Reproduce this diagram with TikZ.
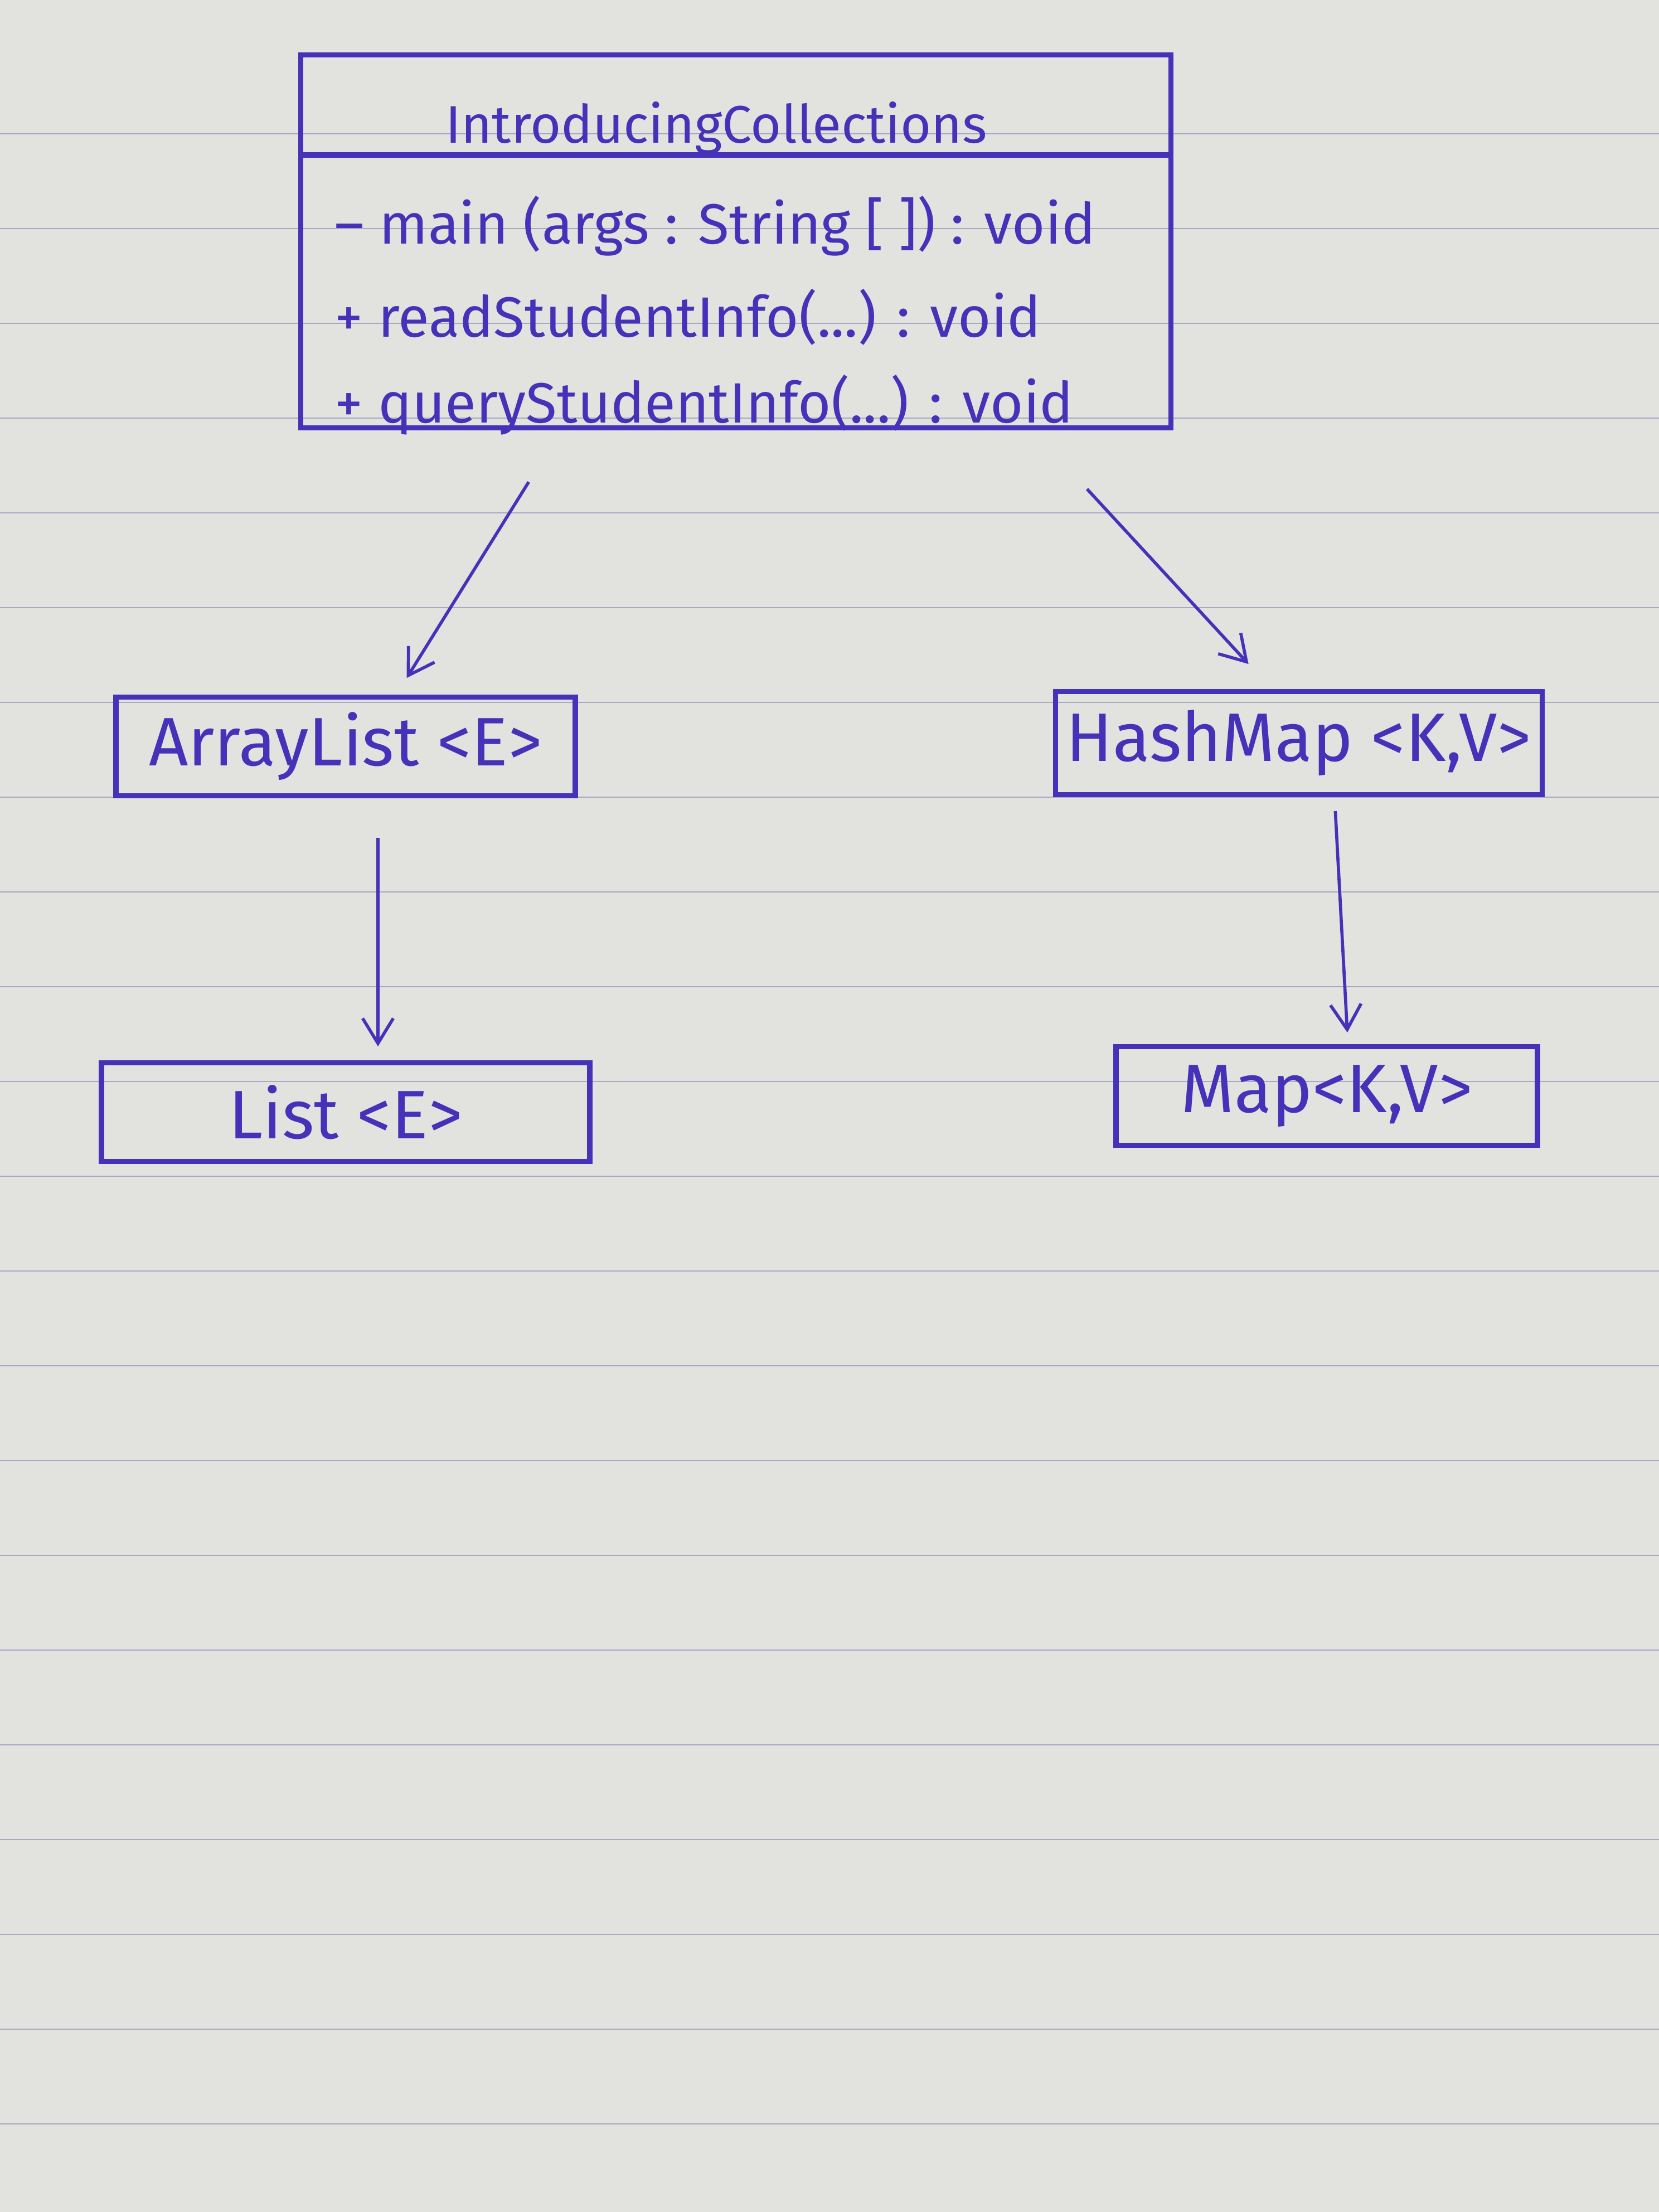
\documentclass[tikz,border=0pt]{standalone}
\usepackage{fontspec}
\setmainfont{Fira Sans}
\usepackage{xcolor}
\usetikzlibrary{arrows.meta, positioning}
\definecolor{ink}{RGB}{70,50,185}
\definecolor{paper}{RGB}{226,226,223}
\definecolor{ruling}{RGB}{168,168,196}

\begin{document}
\begin{tikzpicture}[
    node distance=4.7cm and 2cm,
    classbox/.style={rectangle, draw=ink, line width=2.6pt},
    inktext/.style={text=ink, font=\fontsize{29}{33}\selectfont, inner sep=0pt},
    typebox/.style={rectangle, draw=ink, line width=2.6pt, text=ink, font=\fontsize{35}{40}\selectfont, minimum height=1.77cm},
    arrow/.style={-{Straight Barb[length=0.45cm, width=0.55cm]}, draw=ink, line width=1.6pt}
]
    % paper
    \fill[paper] (0,0) rectangle (29.76,-39.68);
    \useasboundingbox (0,0) rectangle (29.76,-39.68);
    \foreach \i in {0,...,21}
        \draw[ruling, line width=0.8pt] (0,-2.4-1.7*\i) -- (29.76,-2.4-1.7*\i);

    % class with its methods
    \node [classbox, minimum width=15.61cm, minimum height=6.69cm] (cls) at (13.2,-4.33) {};
    \node [inktext, font=\fontsize{27}{31}\selectfont] (title) at (12.85,-2.3) {IntroducingCollections};
    \draw [ink, line width=2.6pt] (cls.west |- 0,-2.78) -- (cls.east |- 0,-2.78);
    \node [inktext, anchor=west] (mmain) at (6.0,-4.05) {– main (args : String [ ]) : void};
    \node [inktext, anchor=west] (mread) at (6.0,-5.69) {+ readStudentInfo(...) : void};
    \node [inktext, anchor=west] (mquery) at (6.0,-7.26) {+ queryStudentInfo(...) : void};

    % collection types
    \node [typebox, minimum width=8.24cm] (al) at (6.2,-13.39) {ArrayList <E>};
    \node [typebox, minimum width=8.73cm, minimum height=1.85cm] (hm) at (23.3,-13.33) {HashMap <K,V>};
    \node [typebox, minimum width=8.76cm, below=of al] (lst) {List <E>};
    \node [typebox, minimum width=7.56cm, below=4.43cm of hm, xshift=0.5cm] (mp) {Map<K,V>};

    \draw [arrow, shorten <=1.09cm, shorten >=0.35cm] ([xshift=-3.14cm]cls.south) -- ([xshift=0.91cm]al.north);
    \draw [arrow, shorten <=1.43cm, shorten >=0.61cm] ([xshift=5.33cm]cls.south) -- ([xshift=-0.49cm]hm.north);
    \draw [arrow, shorten <=0.71cm, shorten >=0.25cm] ([xshift=0.58cm]al.south) -- ([xshift=0.58cm]lst.north);
    \draw [arrow, shorten <=0.25cm, shorten >=0.21cm] ([xshift=0.64cm]hm.south) -- ([xshift=0.38cm]mp.north);
\end{tikzpicture}
\end{document}
